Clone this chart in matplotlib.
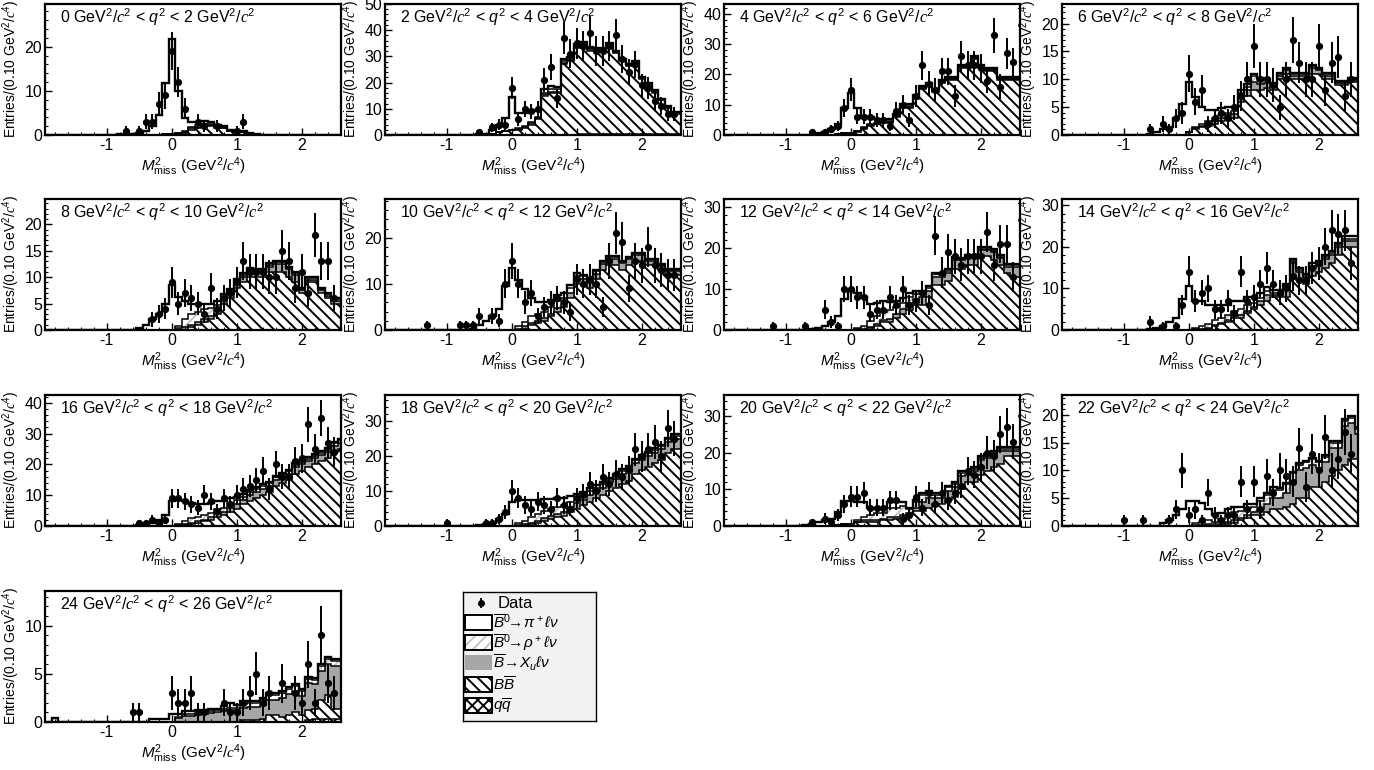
import numpy as np
import matplotlib.pyplot as plt
from matplotlib.patches import Rectangle
from matplotlib.ticker import MultipleLocator, AutoMinorLocator

plt.rcParams['font.family'] = ['Liberation Sans', 'DejaVu Sans']
plt.rcParams['mathtext.fontset'] = 'custom'
plt.rcParams['mathtext.rm'] = 'Liberation Sans'
plt.rcParams['mathtext.it'] = 'Liberation Sans:italic'
plt.rcParams['mathtext.cal'] = 'Liberation Serif:italic'
plt.rcParams['axes.unicode_minus'] = False
plt.rcParams['hatch.linewidth'] = 1.4

# M^2_miss binning: 0.1 GeV^2/c^4 bins centred on -1.9 ... 2.6
edges = np.round(np.arange(-1.95, 2.66, 0.1), 2)
centers = edges[:-1] + 0.05

q2_ranges = [(0, 2), (2, 4), (4, 6), (6, 8), (8, 10), (10, 12), (12, 14),
             (14, 16), (16, 18), (18, 20), (20, 22), (22, 24), (24, 26)]

# ---- 0 < q2 < 2
data_0 = [0,0,0,0,0,0,0,0,0,0, 0,0,1,0,1,3,3,7,9,19, 12,6,0,3,2,0,2,0,0,1, 3,0,0,0,0,0,0,0,0,0, 0,0,0,0,0,0]
pi_0 = [0,0,0,0,0,0,0,0,0,0.1, 0.1,0.2,0.3,0.3,0.5,1,2,4.5,11.5,21.5, 9.5,3,1.2,0.8,0.5,0.3,0.2,0.1,0.1,0, 0,0,0,0,0,0,0,0,0,0, 0,0,0,0,0,0]
rho_0 = [0,0,0,0,0,0,0,0,0,0, 0,0,0,0,0,0,0,0,0,0, 0,0.2,0.3,0.3,0.3,0.3,0.2,0.2,0.1,0.1, 0.1,0,0,0,0,0,0,0,0,0, 0,0,0,0,0,0]
xu_0 = [0,0,0,0,0,0,0,0,0,0, 0,0,0,0,0,0,0,0,0,0, 0.1,0.2,0.3,0.3,0.3,0.3,0.2,0.2,0.1,0.1, 0.1,0.1,0,0,0,0,0,0,0,0, 0,0,0,0,0,0]
bb_0 = [0,0,0,0,0,0,0,0,0,0, 0,0,0,0,0,0,0,0.1,0.2,0.3, 0.3,0.5,1.2,1.6,2,2,1.7,1.5,0.8,0.8, 0.6,0.4,0.2,0.1,0.1,0,0,0,0,0, 0,0,0,0,0,0]
qq_0 = [0,0,0,0,0,0,0,0,0,0, 0,0,0,0,0,0,0,0,0,0, 0,0,0,0,0,0,0,0,0,0, 0,0,0,0,0,0,0,0,0,0, 0,0,0,0,0,0]

# ---- 2 < q2 < 4
data_2 = [0,0,0,0,0,0,0,0,0,0, 0,0,0,0,1,0,3,4,4,18, 6,10,9,10,21,26,14,37,31,35, 34,39,32,32,34,38,29,24,27,19, 18,13,11,8,8,0]
pi_2 = [0,0,0,0,0,0,0,0,0,0, 0,0,0,0,0.2,0.5,1.5,3,5,12.5, 6,5,4,2.5,1.5,1.2,1,0.8,0.5,0.5, 0.3,0.3,0.2,0.2,0.2,0.1,0.1,0.1,0.1,0.1, 0.1,0.1,0.1,0.1,0.1,0.1]
rho_2 = [0,0,0,0,0,0,0,0,0,0, 0,0,0,0,0,0,0,0,0,0, 0.3,0.5,0.5,0.5,0.5,0.8,0.8,0.5,0.5,0.5, 0.5,0.5,0.4,0.4,0.4,0.3,0.3,0.3,0.3,0.3, 0.2,0.2,0.2,0.2,0.2,0.2]
xu_2 = [0,0,0,0,0,0,0,0,0,0, 0,0,0,0,0,0,0,0,0,0, 0.2,0.5,0.5,0.5,0.5,0.5,0.5,0.5,0.5,0.5, 0.5,0.5,0.5,0.5,0.5,0.5,0.5,0.5,0.5,0.5, 0.5,0.5,0.4,0.4,0.4,0.4]
bb_2 = [0,0,0,0,0,0,0,0,0,0, 0,0,0,0,0,0,0.3,1,1.5,2, 2,2.5,4,6,15,16,16,27,28,33, 34,32,32,32,34,31,28,26,27,21, 19,16,13,10,8,8]
qq_2 = [0,0,0,0,0,0,0,0,0,0, 0,0,0,0,0,0,0,0,0,0, 0,0,0,0,0,0.1,0.1,0.1,0.1,0.1, 0.2,0.2,0.2,0.2,0.2,0.2,0.2,0.2,0.2,0.2, 0.2,0.2,0.2,0.2,0.2,0.2]

# ---- 4 < q2 < 6
data_4 = [0,0,0,0,0,0,0,0,0,0, 0,0,0,1,0,1,2,3,9,15, 6,6,6,5,5,3,8,10,5,13, 23,17,15,21,21,13,26,23,23,22, 18,33,16,27,24,0]
pi_4 = [0,0,0,0,0,0,0,0,0,0, 0,0,0,0,0.5,1,2,3.5,8.5,13, 7.5,3.5,2.5,1.2,0.8,0.6,0.5,0.5,0.5,0.4, 0.3,0.3,0.3,0.2,0.2,0.2,0.2,0.2,0.2,0.2, 0.2,0.2,0.2,0.2,0.2,0.2]
rho_4 = [0,0,0,0,0,0,0,0,0,0, 0,0,0,0,0,0,0,0,0,0, 0.2,0.3,0.3,0.3,0.3,0.3,0.3,0.3,0.3,0.3, 0.3,0.3,0.3,0.3,0.3,0.3,0.3,0.3,0.3,0.3, 0.3,0.3,0.3,0.3,0.3,0.3]
xu_4 = [0,0,0,0,0,0,0,0,0,0, 0,0,0,0,0,0,0,0,0,0, 0.2,0.3,0.3,0.3,0.3,0.3,0.3,0.4,0.4,0.4, 0.5,0.5,0.5,0.5,0.5,0.5,0.5,0.5,0.5,0.5, 0.5,0.5,0.5,0.5,0.5,0.5]
bb_4 = [0,0,0,0,0,0,0,0,0,0, 0,0,0,0,0,0,0,0.3,0.5,0.8, 1,2,3,3.5,4,4,6,9,9,12, 15,16,14,17,18,18,22,22,25,22, 21,21,18,18,18,18]
qq_4 = [0,0,0,0,0,0,0,0,0,0, 0,0,0,0,0,0,0,0,0,0, 0,0,0,0,0,0,0,0,0,0, 0.1,0.1,0.1,0.1,0.1,0.1,0.1,0.1,0.1,0.1, 0.1,0.1,0.1,0.1,0.1,0.1]

# ---- 6 < q2 < 8
data_6 = [0,0,0,0,0,0,0,0,0,0, 0,0,0,1,0,2,1,3,4,11, 6,8,2,3,4,3,5,7,10,16, 10,10,9,5,10,17,13,10,10,16, 8,13,14,7,10,0]
pi_6 = [0,0,0,0,0,0,0,0,0,0, 0,0,0,0.2,0.5,1,1.5,3,5.5,9, 5.5,3,2,1.5,1.2,1,0.8,0.6,0.5,0.5, 0.3,0.3,0.3,0.2,0.2,0.2,0.2,0.2,0.2,0.2, 0.2,0.2,0.2,0.2,0.2,0.2]
rho_6 = [0,0,0,0,0,0,0,0,0,0, 0,0,0,0,0,0,0,0,0,0, 0.2,0.3,0.5,0.5,0.5,0.5,0.5,0.7,0.7,1, 0.7,0.5,0.5,0.3,0.3,0.3,0.3,0.3,0.3,0.3, 0.3,0.3,0.2,0.2,0.2,0.2]
xu_6 = [0,0,0,0,0,0,0,0,0,0, 0,0,0,0,0,0,0,0,0,0, 0.2,0.2,0.3,0.5,0.6,0.7,0.8,0.8,1,1.5, 1.2,0.8,0.6,0.6,0.6,0.6,0.6,0.6,1,0.6, 0.6,0.6,0.3,0.3,0.3,0.3]
bb_6 = [0,0,0,0,0,0,0,0,0,0, 0,0,0,0,0,0,0,0,0,0.5, 1,1.5,1.7,2,2.5,2.8,3,6,7,8, 8,8.5,8,10,11,10,10,10,11,11, 10,10,9,9,9.5,9.5]
qq_6 = [0,0,0,0,0,0,0,0,0,0, 0,0,0,0,0,0,0,0,0,0, 0,0,0,0,0,0,0,0,0,0, 0,0,0,0,0,0,0,0,0,0, 0,0,0,0,0,0]

# ---- 8 < q2 < 10
data_8 = [0,0,0,0,0,0,0,0,0,0, 0,0,0,0,0,0,2,3,4,9, 5,7,6,5,3,8,4,6,7,9, 13,11,11,11,10,10,15,13,8,11, 7,18,13,13,6,0]
pi_8 = [0,0,0,0,0,0,0,0,0,0, 0,0,0,0,0.3,1,2,3,5,8.5, 5.5,3.5,2,1.5,1,0.8,0.6,0.5,0.4,0.3, 0.3,0.3,0.2,0.2,0.2,0.2,0.2,0.2,0.2,0.2, 0.2,0.2,0.2,0.2,0.2,0.2]
rho_8 = [0,0,0,0,0,0,0,0,0,0, 0,0,0,0,0,0,0,0,0,0, 0.5,1.5,2,2,2,1.5,1,0.5,0.5,0.5, 0.5,0.4,0.4,0.4,0.4,0.3,0.3,0.3,0.3,0.3, 0.3,0.3,0.3,0.3,0.3,0.3]
xu_8 = [0,0,0,0,0,0,0,0,0,0, 0,0,0,0,0,0,0,0,0,0, 0.3,0.5,0.5,0.5,0.5,0.7,0.8,0.8,0.8,0.8, 1,1,1,1,1,1.5,1.5,1.5,1.5,0.5, 0.5,0.5,0.5,0.5,0.5,0.5]
bb_8 = [0,0,0,0,0,0,0,0,0,0, 0,0,0,0,0,0,0,0,0,0, 0,0,0.5,1,1.5,2,3,5,6,8, 9,10,10,10,11,11,11,10,9,7, 9,9,7,6,5,5]
qq_8 = [0,0,0,0,0,0,0,0,0,0, 0,0,0,0,0,0,0,0,0,0, 0,0,0,0,0,0,0,0,0,0, 0,0,0,0,0,0,0,0,0,0, 0,0,0,0,0,0]

# ---- 10 < q2 < 12
data_10 = [0,0,0,0,0,0,1,0,0,0, 0,1,1,1,3,0,3,2,10,15, 10,6,8,3,5,6,7,6,4,11, 10,11,10,5,15,21,19,9,15,14, 18,14,13,12,12,0]
pi_10 = [0,0,0,0,0,0,0,0,0,0, 0,0,0,0.3,1,2,3,4.5,9.5,13.5, 10,7,4,2.5,2,1.5,1.2,1,0.8,0.6, 0.4,0.3,0.3,0.2,0.2,0.2,0.2,0.2,0.2,0.2, 0.2,0.2,0.2,0.2,0.2,0.2]
rho_10 = [0,0,0,0,0,0,0,0,0,0, 0,0,0,0,0,0,0,0,0,0, 0.5,1,1.5,1.5,1.5,1.5,1.5,1.2,1,0.8, 0.6,0.5,0.5,0.4,0.4,0.3,0.3,0.3,0.3,0.3, 0.3,0.3,0.3,0.3,0.3,0.3]
xu_10 = [0,0,0,0,0,0,0,0,0,0, 0,0,0,0,0,0,0,0,0,0, 0.3,0.5,0.5,0.5,0.5,0.5,0.8,0.8,1,1, 1,1.2,1.2,1.4,1.4,1.5,1.5,1.3,1.3,1.2, 1,1,0.8,0.8,0.8,0.8]
bb_10 = [0,0,0,0,0,0,0,0,0,0, 0,0,0,0,0,0,0,0,0,0, 0,0.3,1,1.5,2,3,4,5,7,10, 10,9,11,13,14,14,13,14,15,15, 14,14,13,12,12,12]
qq_10 = [0,0,0,0,0,0,0,0,0,0, 0,0,0,0,0,0,0,0,0,0, 0,0,0,0,0,0,0,0,0,0, 0,0,0,0,0,0,0,0,0,0, 0,0,0,0,0,0]

# ---- 12 < q2 < 14
data_12 = [0,0,0,0,0,0,0,1,0,0, 0,0,1,0,0,5,2,1,10,10, 8,8,4,5,5,8,6,10,6,7, 9,6,23,14,19,18,16,18,18,18, 24,16,21,21,13,0]
pi_12 = [0,0,0,0,0,0,0,0,0,0, 0,0,0,0.2,0.5,1,2,3.5,7.5,9.5, 8.5,7,4,3,2.5,2,1.5,1.2,1,0.8, 0.6,0.5,0.4,0.3,0.3,0.3,0.3,0.3,0.3,0.3, 0.3,0.3,0.3,0.3,0.3,0.3]
rho_12 = [0,0,0,0,0,0,0,0,0,0, 0,0,0,0,0,0,0,0,0,0, 0.3,0.8,1.5,2,2,2,1.5,1.5,1.5,1.2, 1,0.8,0.6,0.5,0.5,0.5,0.4,0.4,0.4,0.4, 0.4,0.4,0.4,0.4,0.4,0.4]
xu_12 = [0,0,0,0,0,0,0,0,0,0, 0,0,0,0,0,0,0,0,0,0, 0.2,0.2,0.3,0.5,0.5,0.8,1,1.2,1.5,1.5, 2,1.5,2,2,2,2,2,1.5,1.5,1.5, 1.5,2,1.5,1.5,2.5,2.5]
bb_12 = [0,0,0,0,0,0,0,0,0,0, 0,0,0,0,0,0,0,0,0,0, 0,0,0.5,1,2,2,3,4,5,6, 6,8,11,11,12,15,15,16,16,18, 18,17,16,14,13,13]
qq_12 = [0,0,0,0,0,0,0,0,0,0, 0,0,0,0,0,0,0,0,0,0, 0,0,0,0,0,0,0,0,0,0, 0,0,0,0,0,0,0,0,0,0, 0,0,0,0,0,0]

# ---- 14 < q2 < 16
data_14 = [0,0,0,0,0,0,0,0,0,0, 0,0,0,2,0,1,0,1,6,14, 7,9,10,5,5,7,4,14,7,8, 11,15,11,9,10,13,12,12,15,16, 20,24,23,24,16,0]
pi_14 = [0,0,0,0,0,0,0,0,0,0, 0,0,0,0.2,0.5,1,2,2.8,7.5,10.5, 6.5,6,4.5,3.5,3,2.5,2.5,2,2,1.5, 1,1,0.5,0.5,0.5,0.5,0.5,0.5,0.5,0.5, 0.5,0.5,0.5,0.5,0.5,0.5]
rho_14 = [0,0,0,0,0,0,0,0,0,0, 0,0,0,0,0,0,0,0,0,0, 0.3,0.7,1,1.2,1.2,1.2,1.2,1.5,1.5,1, 0.8,0.8,0.5,0.5,0.5,0.5,0.5,0.5,0.5,0.5, 0.5,0.5,0.5,0.5,0.5,0.5]
xu_14 = [0,0,0,0,0,0,0,0,0,0, 0,0,0,0,0,0,0,0,0,0, 0.2,0.3,0.2,0.3,0.3,0.3,0.3,0.5,0.5,0.5, 1,1.5,0.5,0.5,2,3,2,1.5,2,1.5, 2,2,2,1.5,1.5,1.5]
bb_14 = [0,0,0,0,0,0,0,0,0,0, 0,0,0,0,0,0,0,0,0,0, 0,0,0.3,1,1.5,2,3,3,4,5, 6,7,8,8,8,13,12,11,13,14, 15,16,18,20,20,20]
qq_14 = [0,0,0,0,0,0,0,0,0,0, 0,0,0,0,0,0,0,0,0,0, 0,0,0,0,0,0,0,0,0,0, 0,0,0,0,0,0,0,0,0,0, 0,0,0,0,0,0]

# ---- 16 < q2 < 18
data_16 = [0,0,0,0,0,0,0,0,0,0, 0,0,0,0,1,1,2,1,2,9, 9,8,7,6,10,8,5,9,7,10, 12,13,15,18,12,20,16,16,21,22, 33,25,35,27,24,0]
pi_16 = [0,0,0,0,0,0,0,0,0,0, 0,0,0,0,0.3,0.5,1,2,3.5,8, 7.5,6.5,5,4,3.5,3,2.5,2,1.5,1, 0.8,0.6,0.5,0.5,0.5,0.5,0.5,0.5,0.5,0.5, 0.5,0.5,0.5,0.5,0.5,0.5]
rho_16 = [0,0,0,0,0,0,0,0,0,0, 0,0,0,0,0,0,0,0,0,0, 0.5,1,1.5,1.5,1.5,1.5,1.5,1.5,1.5,1.5, 1,1,1,1,0.8,0.8,0.8,0.8,0.8,0.8, 0.8,0.8,0.8,0.8,0.8,0.8]
xu_16 = [0,0,0,0,0,0,0,0,0,0, 0,0,0,0,0,0,0,0,0,0, 0.3,0.5,0.5,0.5,0.5,0.8,1,1,1.5,1.5, 1.5,2,2,2,2,2,2,2,2,2, 2,2,2,2,2,2]
bb_16 = [0,0,0,0,0,0,0,0,0,0, 0,0,0,0,0,0,0,0,0,0, 0,0,0.5,1,1.5,2,3,3.5,4.5,5.5, 7,8,9,10,11,13,14,15,17,18, 19,20,21,22,24,25]
qq_16 = [0,0,0,0,0,0,0,0,0,0, 0,0,0,0,0,0,0,0,0,0, 0,0,0,0,0,0,0,0,0,0, 0,0,0,0,0,0,0,0,0,0, 0,0,0,0,0,0]

# ---- 18 < q2 < 20
data_18 = [0,0,0,0,0,0,0,0,0,1, 0,0,0,0,0,1,1,2,4,10, 8,6,5,7,6,5,8,6,5,8, 9,12,10,14,12,15,14,16,22,20, 22,24,20,28,25,0]
pi_18 = [0,0,0,0,0,0,0,0,0,0, 0,0,0,0,0.3,0.5,1,2,3.5,7, 6.5,6,5,4,3.5,3,2.5,2,1.5,1.2, 1,0.8,0.6,0.5,0.5,0.5,0.5,0.5,0.5,0.5, 0.5,0.5,0.5,0.5,0.5,0.5]
rho_18 = [0,0,0,0,0,0,0,0,0,0, 0,0,0,0,0,0,0,0,0,0, 0.5,1,1.5,2,2,2,2,2,1.5,1.5, 1.2,1,1,1,0.8,0.8,0.8,0.8,0.8,0.8, 0.8,0.8,0.8,0.8,0.8,0.8]
xu_18 = [0,0,0,0,0,0,0,0,0,0, 0,0,0,0,0,0,0,0,0,0, 0.3,0.5,0.5,0.5,0.8,0.8,1,1,1.5,1.5, 1.5,2,2,2,2.5,2.5,3,3,3,3, 3,3,3,3,3,3]
bb_18 = [0,0,0,0,0,0,0,0,0,0, 0,0,0,0,0,0,0,0,0,0, 0,0,0.5,1,1.5,2,2.5,3,4,5, 6,7,8,9,10,11,12,13,15,16, 17,18,19,21,22,22]
qq_18 = [0,0,0,0,0,0,0,0,0,0, 0,0,0,0,0,0,0,0,0,0, 0,0,0,0,0,0,0,0,0,0, 0,0,0,0,0,0,0,0,0,0, 0,0,0,0,0,0]

# ---- 20 < q2 < 22
data_20 = [0,0,0,0,0,0,0,0,0,0, 0,0,0,1,0,2,1,3,6,8, 8,9,5,5,5,7,7,2,3,8, 5,9,6,9,7,9,11,15,14,16, 20,19,25,27,23,0]
pi_20 = [0,0,0,0,0,0,0,0,0,0, 0,0,0.3,0.5,1,1.5,2,3.5,6.3,6.3, 5,4,2,1.5,1.5,1.5,1.5,1,0.5,0.5, 0.5,0.5,0.5,0.5,0.5,0.5,0.5,0.5,0.5,0.5, 0.5,0.5,0.5,0.5,0.5,0.5]
rho_20 = [0,0,0,0,0,0,0,0,0,0, 0,0,0,0,0,0,0,0,0,0, 0.3,1,1.5,2,1.5,2.5,2.5,2.5,1,1.5, 2,1.5,1,1,1,1,1,0.5,0.5,0.5, 0.5,0.5,0.5,0.5,0.5,0.5]
xu_20 = [0,0,0,0,0,0,0,0,0,0, 0,0,0,0,0,0,0,0,0,0, 0.2,0.5,0.5,0.5,0.5,1,0.5,1,0.5,1, 2.5,2.5,1.5,1.5,2.5,2.5,3.5,2,3,4, 3.5,3.5,3.5,1.5,1.5,1.5]
bb_20 = [0,0,0,0,0,0,0,0,0,0, 0,0,0,0,0,0,0,0.3,0.5,0.5, 1,1,1,1,1.5,1.5,2,2,3,4, 4,5,6,6,7,8,10,12,12,14, 15,16,17,19,19,19]
qq_20 = [0,0,0,0,0,0,0,0,0,0, 0,0,0,0,0,0,0,0,0,0, 0,0,0,0,0,0,0,0,0,0, 0,0,0,0,0,0,0,0,0,0, 0,0,0,0,0,0]

# ---- 22 < q2 < 24
data_22 = [0,0,0,0,0,0,0,0,0,1, 0,0,1,0,0,0,1,3,10,2, 3,1,6,2,1,2,2,8,3,8, 3,9,6,10,9,8,14,7,13,10, 16,10,12,17,13,0]
pi_22 = [0,0,0,0,0,0,0,0,0,0, 0,0,0,0,0,0.5,1,2,3,4.5, 4,3.5,2,1.2,1,1,1,0.8,0.8,0.5, 0.5,0.5,0.5,0.3,0.3,0.3,0.3,0.3,0.3,0.3, 0.3,0.3,0.3,0.3,0.3,0.3]
rho_22 = [0,0,0,0,0,0,0,0,0,0, 0,0,0,0,0,0,0,0,0,0, 0.3,0.5,0.7,0.5,1,1.2,1.5,1.2,1.2,1, 1.5,1.5,1.5,1.5,1.5,1.5,1,1,1,1, 1,1,1,1,1,1]
xu_22 = [0,0,0,0,0,0,0,0,0,0, 0,0,0,0,0,0,0,0,0,0, 0.2,0.2,0.3,0.3,0.3,0.5,0.5,0.5,0.5,0.5, 1,1.5,2,2,2.5,4,5,5.5,4,3.5, 3.5,5,4,7,6.5,4.5]
bb_22 = [0,0,0,0,0,0,0,0,0,0, 0,0,0,0,0,0,0,0,0,0, 0,0,0,0,0,0.3,0.5,1,1.5,2, 2,2.5,3,3,3.5,4,5,5,7,7, 8,9,10,11,12,12]
qq_22 = [0,0,0,0,0,0,0,0,0,0, 0,0,0,0,0,0,0,0,0,0, 0,0,0,0,0,0,0,0,0,0, 0,0,0,0,0,0,0,0,0,0, 0,0,0,0,0,0]

# ---- 24 < q2 < 26
data_24 = [0,0,0,0,0,0,0,0,0,0, 0,0,0,1,1,0,0,0,0,3, 2,2,3,1,1,0,0,2,1,1, 2,3,5,2,3,0,4,0,3,2, 6,2,9,4,3,0]
pi_24 = [0,0.4,0,0,0,0,0,0,0,0, 0,0,0,0,0,0,0.3,0.3,0.3,0.8, 0.3,0.3,0.3,0.3,0.2,0.2,0.2,0.3,0.5,0.3, 0.3,0.2,0.2,0.2,0.2,0.2,0.2,0.2,0.2,0.2, 0.2,0.2,0.2,0.2,0.2,0.2]
rho_24 = [0,0,0,0,0,0,0,0,0,0, 0,0,0,0,0,0,0,0,0,0, 0.1,0.2,0.2,0.2,0.2,0.2,0.2,0.3,0.3,0.3, 0.4,0.4,0.4,0.5,0.5,0.5,0.5,0.5,0.5,0.5, 0.5,0.5,0.5,0.5,0.5,0.5]
xu_24 = [0,0,0,0,0,0,0,0,0,0, 0,0,0,0,0,0,0,0,0,0, 0.4,0.6,0.6,0.7,0.8,0.9,1,1.1,1.2,1.2, 1.3,1.4,1.4,1.5,1.6,1.6,2,2.2,2.2,2, 2.8,2.6,3,3.2,4.5,4.5]
bb_24 = [0,0,0,0,0,0,0,0,0,0, 0,0,0,0,0,0,0,0,0,0, 0,0,0,0,0,0,0,0,0,0, 0.2,0.2,0.2,0.3,0.7,0.7,0.5,0.7,1,0.7, 1,1,2,2.5,1,1]
qq_24 = [0,0,0,0,0,0,0,0,0,0, 0,0,0,0,0,0,0,0,0,0, 0,0,0,0,0,0,0,0,0,0, 0,0,0,0,0,0,0,0,0,0, 0.2,0.3,0.3,0.3,0.3,0.3]

data_sets = [data_0, data_2, data_4, data_6, data_8, data_10, data_12,
             data_14, data_16, data_18, data_20, data_22, data_24]
pi_sets = [pi_0, pi_2, pi_4, pi_6, pi_8, pi_10, pi_12, pi_14, pi_16, pi_18, pi_20, pi_22, pi_24]
rho_sets = [rho_0, rho_2, rho_4, rho_6, rho_8, rho_10, rho_12, rho_14, rho_16, rho_18, rho_20, rho_22, rho_24]
xu_sets = [xu_0, xu_2, xu_4, xu_6, xu_8, xu_10, xu_12, xu_14, xu_16, xu_18, xu_20, xu_22, xu_24]
bb_sets = [bb_0, bb_2, bb_4, bb_6, bb_8, bb_10, bb_12, bb_14, bb_16, bb_18, bb_20, bb_22, bb_24]
qq_sets = [qq_0, qq_2, qq_4, qq_6, qq_8, qq_10, qq_12, qq_14, qq_16, qq_18, qq_20, qq_22, qq_24]

y_max = [29.7, 50, 43.3, 23.5, 24.8, 28.4, 32, 31.5, 42.5, 37.5, 35.7, 23.6, 13.6]
y_step = [10, 10, 10, 5, 5, 10, 10, 10, 10, 10, 10, 5, 5]

# component styles, bottom of the stack first
styles = [
    dict(facecolor='white', hatch='xxx', hatchcolor='black'),        # q qbar
    dict(facecolor='white', hatch='\\\\\\', hatchcolor='black'),     # B Bbar
    dict(facecolor='#a6a6a6', hatch=None, hatchcolor='#a6a6a6'),     # B -> Xu l nu
    dict(facecolor='white', hatch='///', hatchcolor='#c4c4c4'),      # B0 -> rho l nu
    dict(facecolor='white', hatch=None, hatchcolor='white'),         # B0 -> pi l nu
]

W, H = 1374, 770
fig = plt.figure(figsize=(W / 100, H / 100), dpi=100)

col_left = [45, 385, 724, 1062]
row_top = [4, 199, 395, 591]
ax_w, ax_h = 296, 131

ylab = r'Entries/(0.10 GeV$^2$/$\mathcal{c}^4$)'
xlab = r'$M^2_{\rm miss}$ (GeV$^2$/$\mathcal{c}^4$)'

for i, (lo, hi) in enumerate(q2_ranges):
    r, c = divmod(i, 4)
    x0 = col_left[c]
    y0 = row_top[r]
    ax = fig.add_axes([x0 / W, 1 - (y0 + ax_h) / H, ax_w / W, ax_h / H])

    comps = [qq_sets[i], bb_sets[i], xu_sets[i], rho_sets[i], pi_sets[i]]
    base = np.zeros(len(centers))
    tops = []
    for comp, st in zip(comps, styles):
        top = base + np.array(comp, dtype=float)
        ax.stairs(top, edges, baseline=base, fill=True, facecolor=st['facecolor'],
                  hatch=st['hatch'], edgecolor=st['hatchcolor'], linewidth=0, zorder=1)
        tops.append(top)
        base = top
    for top in tops[:-1]:
        ax.stairs(top, edges, color='black', linewidth=1.1, zorder=2)
    ax.stairs(tops[-1], edges, color='black', linewidth=1.7, zorder=3)

    counts = np.array(data_sets[i], dtype=float)
    m = counts > 0
    ax.errorbar(centers[m], counts[m], yerr=np.sqrt(counts[m]), fmt='o', ms=4.2,
                color='black', elinewidth=1.4, capsize=0, zorder=4)

    ax.set_xlim(-1.95, 2.6)
    ax.set_ylim(0, y_max[i])
    ax.xaxis.set_major_locator(MultipleLocator(1))
    ax.xaxis.set_minor_locator(AutoMinorLocator(5))
    ax.yaxis.set_major_locator(MultipleLocator(y_step[i]))
    ax.yaxis.set_minor_locator(AutoMinorLocator(5))
    ax.tick_params(which='both', direction='in', top=False, right=False, labelsize=11.5, pad=2)
    ax.tick_params(which='major', length=5, width=1)
    ax.tick_params(which='minor', length=2.5, width=0.8)
    for sp in ax.spines.values():
        sp.set_linewidth(1.6)

    ax.set_ylabel(ylab, fontsize=10)
    ax.yaxis.set_label_coords(-0.078, 0.5)
    ax.set_xlabel(xlab, fontsize=11)
    ax.xaxis.set_label_coords(0.5, -0.155)

    title = (r'%d GeV$^2$/$\mathcal{c}^2$ < $q^2$ < %d GeV$^2$/$\mathcal{c}^2$' % (lo, hi))
    ax.text(0.05, 0.9, title, transform=ax.transAxes, fontsize=11.5, va='center', ha='left', zorder=5)

# legend box
lx, ly, lw_, lh = 463, 592, 133, 129
lax = fig.add_axes([lx / W, 1 - (ly + lh) / H, lw_ / W, lh / H])
lax.set_xlim(0, lw_)
lax.set_ylim(lh, 0)
lax.set_facecolor('#f2f2f2')
lax.set_xticks([])
lax.set_yticks([])
for sp in lax.spines.values():
    sp.set_linewidth(1.0)

lax.errorbar([18], [11], yerr=[5], fmt='o', ms=4, color='black', elinewidth=1.3, capsize=0)
lax.text(35, 11, 'Data', fontsize=12, va='center', ha='left')

entries = [
    (30, styles[4], True, r'$\overline{B}^0\!\!\rightarrow\!\pi^+\ell\nu$'),
    (50, styles[3], True, r'$\overline{B}^0\!\!\rightarrow\!\rho^+\ell\nu$'),
    (70, styles[2], False, r'$\overline{B}\!\rightarrow\! X_u\ell\nu$'),
    (92, styles[1], True, r'$B\overline{B}$'),
    (113, styles[0], True, r'$q\overline{q}$'),
]
for yc, st, outline, label in entries:
    lax.add_patch(Rectangle((2, yc - 7.5), 27, 15, facecolor=st['facecolor'], hatch=st['hatch'],
                            edgecolor=st['hatchcolor'], linewidth=0))
    if outline:
        lax.add_patch(Rectangle((2, yc - 7.5), 27, 15, fill=False, edgecolor='black', linewidth=1.4))
    lax.text(30, yc + 1, label, fontsize=11, va='center', ha='left')

fig.savefig('out.png', dpi=100)
